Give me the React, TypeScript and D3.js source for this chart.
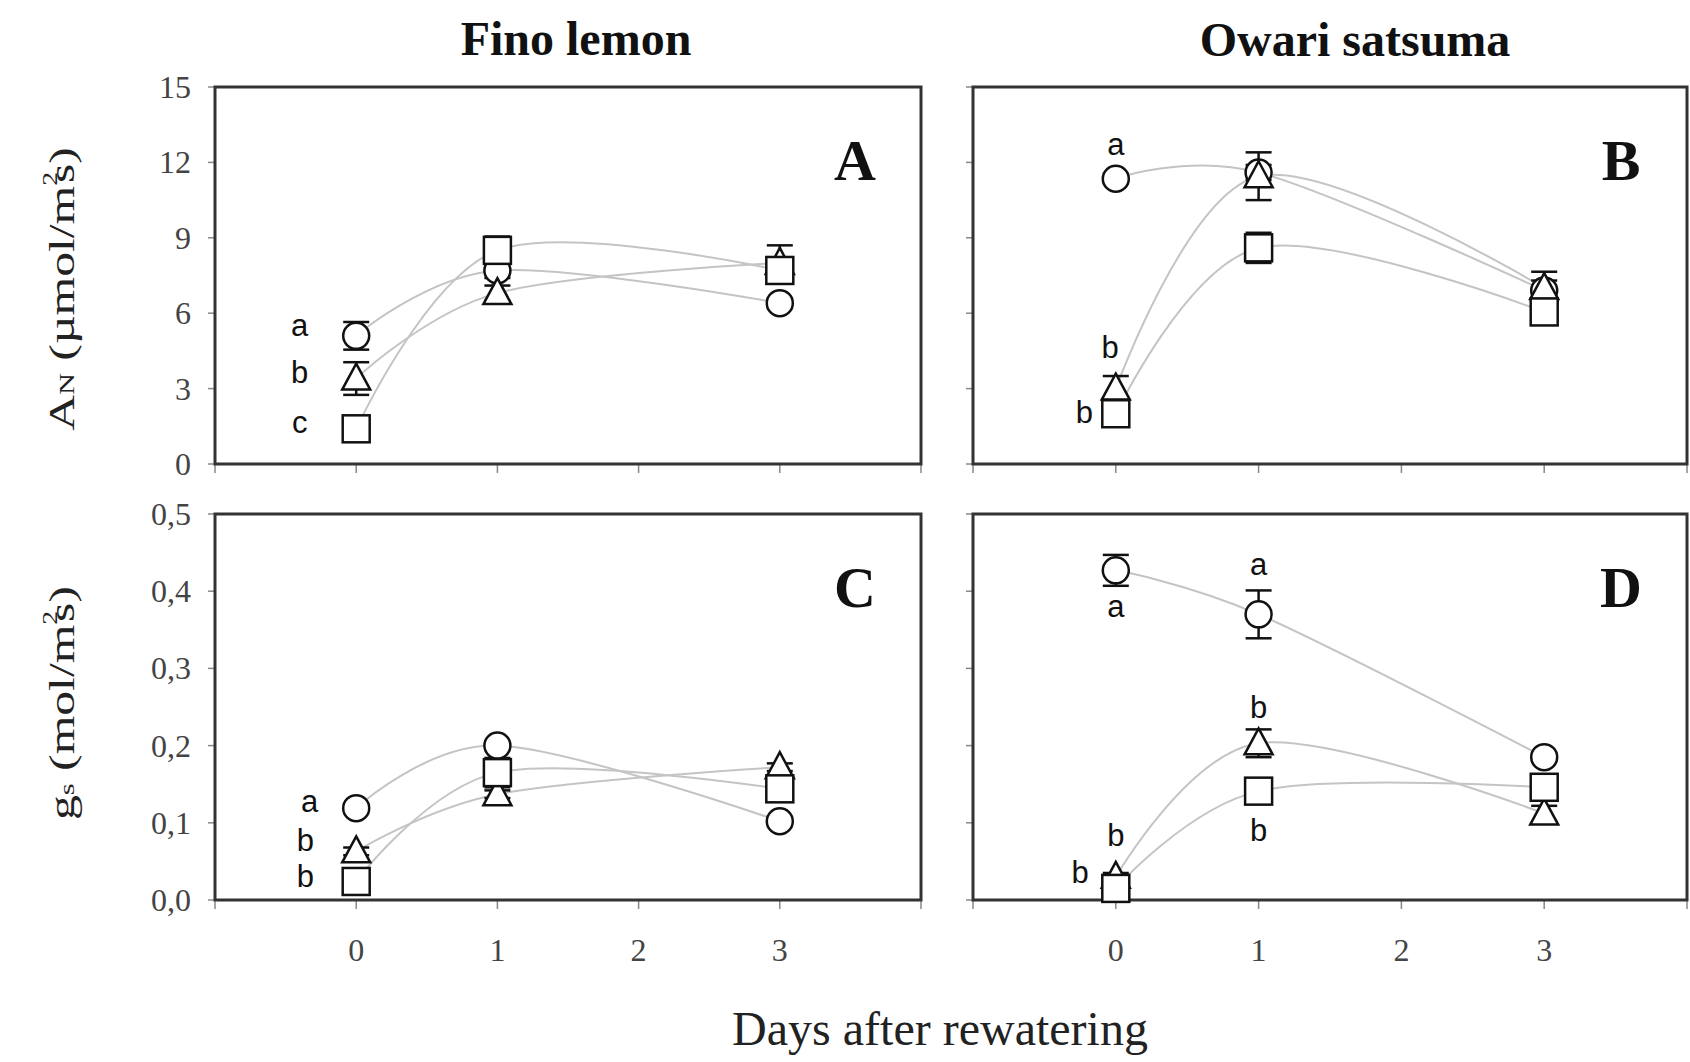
import React from "react";
import * as d3 from "d3";

// x positions (days after rewatering)
const days = [0, 1, 3];
const xTicks = [-1, 0, 1, 2, 3, 4];
const xTickLabels = [0, 1, 2, 3];
const anTicks = [0, 3, 6, 9, 12, 15];
const gsTicks = [0, 0.1, 0.2, 0.3, 0.4, 0.5];

// Fino lemon - AN
const finoAnCircle = [5.1, 7.7, 6.4];
const finoAnCircleErr = [0.55, 0.3, 0.2];
const finoAnTriangle = [3.4, 6.8, 8.0];
const finoAnTriangleErr = [0.65, 0.3, 0.7];
const finoAnSquare = [1.4, 8.5, 7.7];
const finoAnSquareErr = [0.1, 0.55, 0.3];

// Owari satsuma - AN
const owariAnCircle = [11.35, 11.6, 6.9];
const owariAnCircleErr = [0.2, 0.3, 0.4];
const owariAnTriangle = [3.0, 11.45, 7.0];
const owariAnTriangleErr = [0.5, 0.95, 0.65];
const owariAnSquare = [2.0, 8.6, 6.05];
const owariAnSquareErr = [0.3, 0.6, 0.3];

// Fino lemon - gs
const finoGsCircle = [0.119, 0.2, 0.102];
const finoGsCircleErr = [0.005, 0.005, 0.005];
const finoGsTriangle = [0.063, 0.137, 0.172];
const finoGsTriangleErr = [0.005, 0.005, 0.005];
const finoGsSquare = [0.024, 0.165, 0.144];
const finoGsSquareErr = [0.005, 0.019, 0.005];

// Owari satsuma - gs
const owariGsCircle = [0.427, 0.37, 0.185];
const owariGsCircleErr = [0.02, 0.031, 0.005];
const owariGsTriangle = [0.03, 0.203, 0.112];
const owariGsTriangleErr = [0.005, 0.018, 0.01];
const owariGsSquare = [0.015, 0.141, 0.146];
const owariGsSquareErr = [0.005, 0.005, 0.005];

// significance letters: [day position, value, letter]
const finoAnLetters: [number, number, string][] = [
  [-0.4, 5.5, "a"],
  [-0.4, 3.64, "b"],
  [-0.4, 1.65, "c"],
];
const owariAnLetters: [number, number, string][] = [
  [0, 12.7, "a"],
  [-0.04, 4.62, "b"],
  [-0.22, 2.03, "b"],
];
const finoGsLetters: [number, number, string][] = [
  [-0.33, 0.127, "a"],
  [-0.36, 0.077, "b"],
  [-0.36, 0.031, "b"],
];
const owariGsLetters: [number, number, string][] = [
  [0, 0.38, "a"],
  [0, 0.084, "b"],
  [-0.25, 0.035, "b"],
  [1, 0.434, "a"],
  [1, 0.25, "b"],
  [1, 0.09, "b"],
];

const serif = "'Liberation Serif', 'Times New Roman', serif";
const sans = "'Liberation Sans', Arial, sans-serif";

const commaFmt = d3.formatLocale({
  decimal: ",",
  thousands: ".",
  grouping: [3],
  currency: ["", ""],
}).format(".1f");

type Series = { shape: string; values: number[]; err: number[] };

function Marker({ shape, cx, cy }: { shape: string; cx: number; cy: number }) {
  const st = { fill: "#fff", stroke: "#111", strokeWidth: 2.5 };
  if (shape === "circle") return <circle cx={cx} cy={cy} r={13} {...st} />;
  if (shape === "square")
    return <rect x={cx - 13.5} y={cy - 13.5} width={27} height={27} {...st} />;
  return (
    <path
      d={`M${cx},${cy - 15}L${cx + 14},${cy + 11}L${cx - 14},${cy + 11}Z`}
      {...st}
    />
  );
}

function Panel(props: {
  x0: number;
  x1: number;
  y0: number;
  y1: number;
  ticks: number[];
  fmt: (v: number) => string;
  showY: boolean;
  showX: boolean;
  series: Series[];
  letters: [number, number, string][];
  tag: string;
}) {
  const { x0, x1, y0, y1, ticks, fmt, showY, showX, series, letters, tag } = props;
  const x = d3.scaleLinear().domain([-1, 4]).range([x0, x1]);
  const y = d3
    .scaleLinear()
    .domain([ticks[0], ticks[ticks.length - 1]])
    .range([y1, y0]);
  const line = d3
    .line<number>()
    .x((_, i) => x(days[i]))
    .y((d) => y(d))
    .curve(d3.curveCardinal.tension(0));

  return (
    <g>
      {/* ticks */}
      {ticks.map((t) => (
        <line key={"yt" + t} x1={x0 - 7} x2={x0} y1={y(t)} y2={y(t)} stroke="#888" strokeWidth={1.5} />
      ))}
      {xTicks.map((t) => (
        <line key={"xt" + t} x1={x(t)} x2={x(t)} y1={y1} y2={y1 + 9} stroke="#888" strokeWidth={1.5} />
      ))}
      {showY &&
        ticks.map((t) => (
          <text
            key={"yl" + t}
            x={x0 - 24}
            y={y(t)}
            textAnchor="end"
            dominantBaseline="central"
            fontFamily={serif}
            fontSize={32}
            fill="#444"
          >
            {fmt(t)}
          </text>
        ))}
      {showX &&
        xTickLabels.map((t) => (
          <text
            key={"xl" + t}
            x={x(t)}
            y={y1 + 50}
            textAnchor="middle"
            dominantBaseline="central"
            fontFamily={serif}
            fontSize={32}
            fill="#444"
          >
            {t}
          </text>
        ))}
      <rect x={x0} y={y0} width={x1 - x0} height={y1 - y0} fill="none" stroke="#333" strokeWidth={3} />
      {/* lines */}
      {series.map((s) => (
        <path key={"l" + s.shape} d={line(s.values) || ""} fill="none" stroke="#c4c4c4" strokeWidth={2} />
      ))}
      {/* error bars */}
      {series.map((s) =>
        s.values.map((v, i) => {
          const cx = x(days[i]);
          const top = y(v + s.err[i]);
          const bot = y(v - s.err[i]);
          return (
            <g key={"e" + s.shape + i} stroke="#111" strokeWidth={2.5}>
              <line x1={cx} x2={cx} y1={top} y2={bot} />
              <line x1={cx - 13} x2={cx + 13} y1={top} y2={top} />
              <line x1={cx - 13} x2={cx + 13} y1={bot} y2={bot} />
            </g>
          );
        })
      )}
      {/* markers */}
      {series.map((s) =>
        s.values.map((v, i) => (
          <Marker key={"m" + s.shape + i} shape={s.shape} cx={x(days[i])} cy={y(v)} />
        ))
      )}
      {letters.map(([d, v, t], i) => (
        <text
          key={"lt" + i}
          x={x(d)}
          y={y(v)}
          textAnchor="middle"
          dominantBaseline="central"
          fontFamily={sans}
          fontSize={31}
          fill="#111"
        >
          {t}
        </text>
      ))}
      <text x={x1 - 66} y={y0 + 93} textAnchor="middle" fontFamily={serif} fontWeight="bold" fontSize={58} fill="#111">
        {tag}
      </text>
    </g>
  );
}

export default function App() {
  const left = { x0: 215, x1: 921 };
  const right = { x0: 973, x1: 1687 };
  const top = { y0: 87, y1: 464 };
  const bottom = { y0: 514, y1: 900 };
  const anFmt = (v: number) => String(v);

  return (
    <svg
      width={1690}
      height={1062}
      style={{ position: "absolute", left: 0, top: 0, background: "#fff" }}
    >
      <text x={576} y={55} textAnchor="middle" fontFamily={serif} fontWeight="bold" fontSize={48} fill="#111">
        Fino lemon
      </text>
      <text x={1355} y={56} textAnchor="middle" fontFamily={serif} fontWeight="bold" fontSize={48} fill="#111">
        Owari satsuma
      </text>

      <Panel
        {...left}
        {...top}
        ticks={anTicks}
        fmt={anFmt}
        showY
        showX={false}
        tag="A"
        letters={finoAnLetters}
        series={[
          { shape: "circle", values: finoAnCircle, err: finoAnCircleErr },
          { shape: "triangle", values: finoAnTriangle, err: finoAnTriangleErr },
          { shape: "square", values: finoAnSquare, err: finoAnSquareErr },
        ]}
      />
      <Panel
        {...right}
        {...top}
        ticks={anTicks}
        fmt={anFmt}
        showY={false}
        showX={false}
        tag="B"
        letters={owariAnLetters}
        series={[
          { shape: "circle", values: owariAnCircle, err: owariAnCircleErr },
          { shape: "triangle", values: owariAnTriangle, err: owariAnTriangleErr },
          { shape: "square", values: owariAnSquare, err: owariAnSquareErr },
        ]}
      />
      <Panel
        {...left}
        {...bottom}
        ticks={gsTicks}
        fmt={commaFmt}
        showY
        showX
        tag="C"
        letters={finoGsLetters}
        series={[
          { shape: "circle", values: finoGsCircle, err: finoGsCircleErr },
          { shape: "triangle", values: finoGsTriangle, err: finoGsTriangleErr },
          { shape: "square", values: finoGsSquare, err: finoGsSquareErr },
        ]}
      />
      <Panel
        {...right}
        {...bottom}
        ticks={gsTicks}
        fmt={commaFmt}
        showY={false}
        showX
        tag="D"
        letters={owariGsLetters}
        series={[
          { shape: "circle", values: owariGsCircle, err: owariGsCircleErr },
          { shape: "triangle", values: owariGsTriangle, err: owariGsTriangleErr },
          { shape: "square", values: owariGsSquare, err: owariGsSquareErr },
        ]}
      />

      {/* y axis titles */}
      <text
        transform="translate(74,289) rotate(-90) scale(1.38,1)"
        textAnchor="middle"
        fontFamily={serif}
        fontSize={36}
        fill="#222"
      >
        A<tspan fontSize={22}>N</tspan> (µmol/m
        <tspan fontSize={20} dy={-17}>2</tspan>
        <tspan dx={-8} dy={17}>s)</tspan>
      </text>
      <text
        transform="translate(74,703) rotate(-90) scale(1.38,1)"
        textAnchor="middle"
        fontFamily={serif}
        fontSize={36}
        fill="#222"
      >
        g<tspan fontSize={22}>s</tspan> (mol/m
        <tspan fontSize={20} dy={-17}>2</tspan>
        <tspan dx={-8} dy={17}>s)</tspan>
      </text>

      <text x={940} y={1045} textAnchor="middle" fontFamily={serif} fontSize={48} fill="#222">
        Days after rewatering
      </text>
    </svg>
  );
}
